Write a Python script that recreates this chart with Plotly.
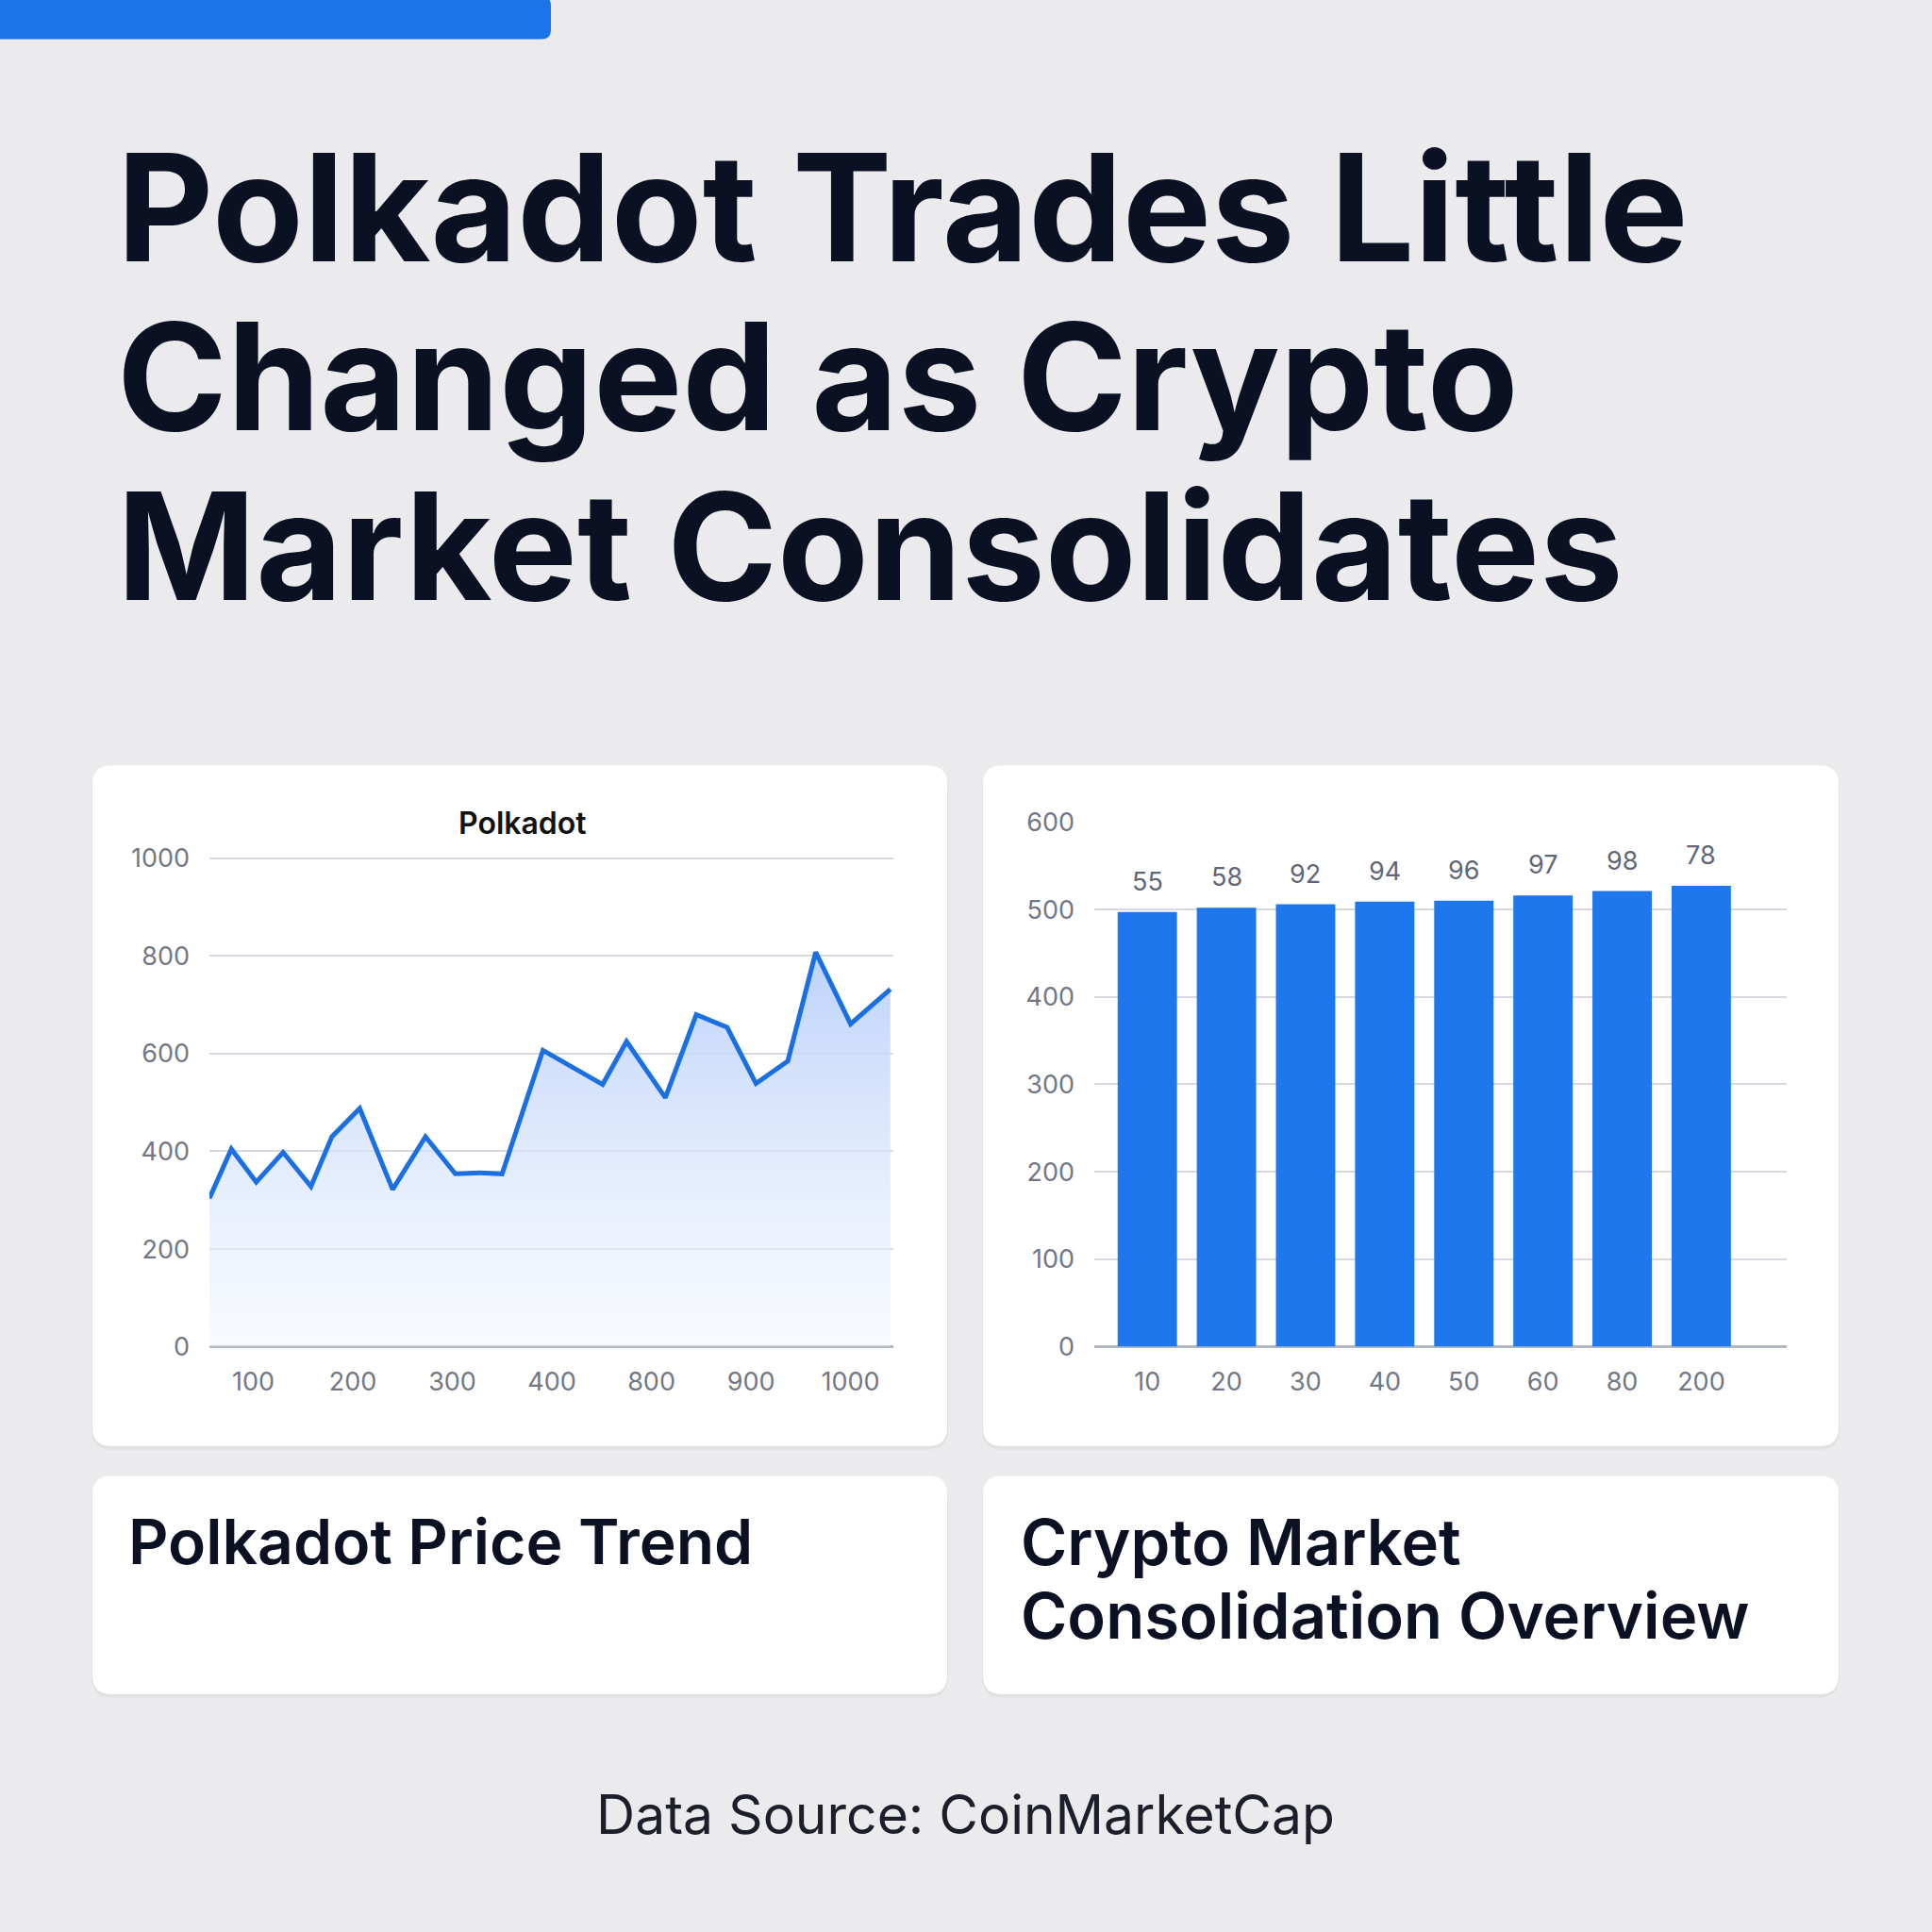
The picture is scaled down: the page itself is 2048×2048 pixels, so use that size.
import plotly.graph_objects as go

# ---- data ----
price_x = [0.56, 0.78, 1.03, 1.30, 1.58, 1.79, 2.07, 2.40, 2.73, 3.03, 3.28, 3.50,
           3.91, 4.19, 4.51, 4.75, 5.14, 5.45, 5.76, 6.05, 6.37, 6.65, 7.00, 7.40]
price_y = [304, 405, 337, 398, 328, 430, 488, 322, 430, 354, 356, 354,
           607, 575, 537, 625, 510, 680, 654, 539, 585, 808, 661, 732]
price_tick_pos = [1, 2, 3, 4, 5, 6, 7]
price_tick_text = ['100', '200', '300', '400', '800', '900', '1000']

bar_cats = ['10', '20', '30', '40', '50', '60', '80', '200']
bar_vals = [497, 502, 506, 509, 510, 516, 521, 527]
bar_labels = ['55', '58', '92', '94', '96', '97', '98', '78']

W = 2048
BLUE = '#1a6fe3'
GRID = '#d6d9df'
TICK = '#717784'


def px_x(v):
    return v / W


def px_y(v):
    return 1 - v / W


def rounded(x0, y0, x1, y1, r):
    # pixel coords (top-left origin) -> paper path with rounded corners
    X = lambda v: px_x(v)
    Y = lambda v: px_y(v)
    rr = r / W
    return (f"M {X(x0)+rr},{Y(y0)} L {X(x1)-rr},{Y(y0)} Q {X(x1)},{Y(y0)} {X(x1)},{Y(y0)-rr} "
            f"L {X(x1)},{Y(y1)+rr} Q {X(x1)},{Y(y1)} {X(x1)-rr},{Y(y1)} "
            f"L {X(x0)+rr},{Y(y1)} Q {X(x0)},{Y(y1)} {X(x0)},{Y(y1)+rr} "
            f"L {X(x0)},{Y(y0)-rr} Q {X(x0)},{Y(y0)} {X(x0)+rr},{Y(y0)} Z")


fig = go.Figure()

fig.add_trace(go.Scatter(
    x=price_x, y=price_y, mode='lines', xaxis='x', yaxis='y',
    line=dict(color=BLUE, width=5),
    fill='tozeroy',
    fillgradient=dict(type='vertical', start=0, stop=800,
                      colorscale=[[0, 'rgba(242,246,254,0.5)'], [1, 'rgba(186,208,250,0.95)']]),
    showlegend=False, hoverinfo='skip'))

fig.add_trace(go.Bar(
    x=list(range(len(bar_cats))), y=bar_vals, xaxis='x2', yaxis='y2',
    marker=dict(color='#1f77ee', line=dict(width=0)), width=0.75,
    showlegend=False, hoverinfo='skip'))

shapes = []
# top accent bar
shapes.append(dict(type='path', xref='paper', yref='paper', layer='below',
                   path=rounded(-20, -20, 584, 26, 10), fillcolor='#1b74ea', line=dict(width=0)))
# cards
cards = [(98, 808, 1004, 1541), (1042, 808, 1949, 1541),
         (98, 1573, 1004, 1808), (1042, 1573, 1949, 1808)]
for c in cards:
    shapes.append(dict(type='path', xref='paper', yref='paper', layer='below',
                       path=rounded(c[0] - 1, c[1] + 3, c[2] + 1, c[3] + 4, 22),
                       fillcolor='rgba(0,0,0,0.04)', line=dict(width=0)))
    shapes.append(dict(type='path', xref='paper', yref='paper', layer='below',
                       path=rounded(*c, 20), fillcolor='#ffffff', line=dict(width=0)))

annotations = []
title_lines = ['Polkadot Trades Little', 'Changed as Crypto', 'Market Consolidates']
for line, yc in zip(title_lines, [207, 389, 571]):
    annotations.append(dict(text=line, xref='paper', yref='paper', x=px_x(122), y=px_y(yc),
                            xanchor='left', yanchor='middle', showarrow=False,
                            font=dict(family='Inter', size=158, color='#0b1023', weight=700)))

annotations.append(dict(text='Polkadot', xref='paper', yref='paper', x=px_x(554), y=px_y(870),
                        xanchor='center', yanchor='middle', showarrow=False,
                        font=dict(family='Inter', size=32, color='#111111', weight=600)))

# value labels above the bars
for i, lab in enumerate(bar_labels):
    annotations.append(dict(text=lab, xref='x2', yref='y2', x=i, y=bar_vals[i],
                            yanchor='bottom', yshift=14, showarrow=False,
                            font=dict(family='Inter', size=27, color='#5f6676')))

annotations.append(dict(text='Polkadot Price Trend', xref='paper', yref='paper',
                        x=px_x(134), y=px_y(1644), xanchor='left', yanchor='middle', showarrow=False,
                        font=dict(family='Inter', size=66, color='#0b1023', weight=600)))
for line, yc in zip(['Crypto Market', 'Consolidation Overview'], [1644, 1723]):
    annotations.append(dict(text=line, xref='paper', yref='paper',
                            x=px_x(1080), y=px_y(yc), xanchor='left', yanchor='middle', showarrow=False,
                            font=dict(family='Inter', size=67, color='#0b1023', weight=600)))

annotations.append(dict(text='Data Source: CoinMarketCap', xref='paper', yref='paper',
                        x=px_x(1023), y=px_y(1938), xanchor='center', yanchor='middle', showarrow=False,
                        font=dict(family='Inter', size=57, color='#1c1f2a')))

axis_font = dict(family='Inter', size=27, color=TICK)

fig.update_layout(
    width=W, height=W, margin=dict(l=0, r=0, t=0, b=0),
    paper_bgcolor='#ebebed', plot_bgcolor='rgba(0,0,0,0)',
    shapes=shapes, annotations=annotations,
    xaxis=dict(domain=[px_x(222), px_x(947)], range=[0.56, 7.43],
               tickvals=price_tick_pos, ticktext=price_tick_text,
               showgrid=False, zeroline=False, showline=False, ticks='',
               tickfont=axis_font, ticklabelstandoff=18),
    yaxis=dict(domain=[px_y(1434), px_y(907)], range=[0, 1002],
               tickvals=[0, 200, 400, 600, 800, 1000],
               gridcolor=GRID, gridwidth=2, zeroline=True, zerolinecolor='#b3b7bf',
               zerolinewidth=3, showline=False, ticks='', tickfont=axis_font,
               ticklabelstandoff=20),
    xaxis2=dict(domain=[px_x(1160), px_x(1894)], range=[-0.67, 8.08], anchor='y2',
                tickvals=list(range(len(bar_cats))), ticktext=bar_cats,
                showgrid=False, zeroline=False, showline=False, ticks='',
                tickfont=axis_font, ticklabelstandoff=18),
    yaxis2=dict(domain=[px_y(1434), px_y(868)], range=[0, 601], anchor='x2',
                tickvals=[0, 100, 200, 300, 400, 500, 600],
                gridcolor=GRID, gridwidth=2, zeroline=True, zerolinecolor='#b3b7bf',
                zerolinewidth=3, showline=False, ticks='', tickfont=axis_font,
                ticklabelstandoff=20),
)

fig.write_html('out.html', config={'displayModeBar': False},
               post_script="document.body.style.margin='0';")
